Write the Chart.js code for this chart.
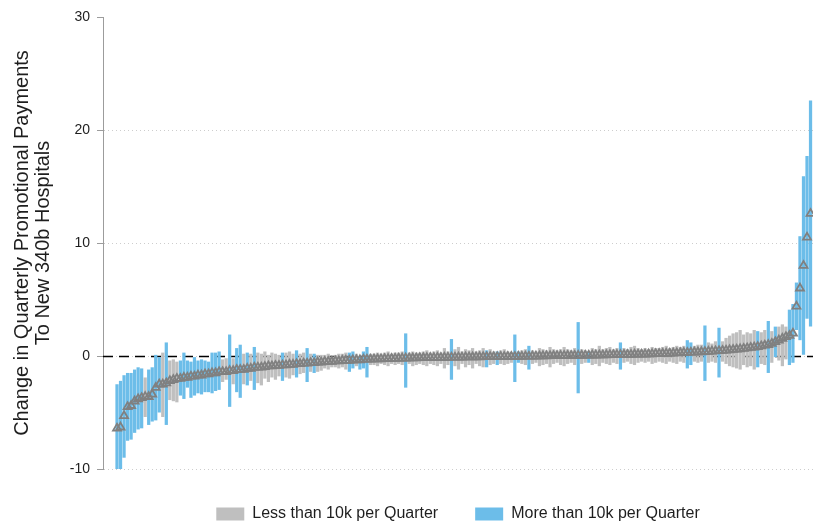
<!DOCTYPE html>
<html>
<head>
<meta charset="utf-8">
<script src="https://cdn.jsdelivr.net/npm/chart.js@4.4.1/dist/chart.umd.min.js"></script>
<style>
  html, body { margin: 0; padding: 0; background: #ffffff; }
  canvas { display: block; }
</style>
</head>
<body>
<canvas id="chart" width="813" height="527"></canvas>
<script>
// Ranked hospital-level estimates (point estimate and 95% CI bounds)
const estimate = [
  -6.4, -6.3, -5.3, -4.5, -4.4, -4.0, -3.8, -3.7, -3.6, -3.6,
  -3.4, -2.8, -2.5, -2.5, -2.4, -2.2, -2.1, -2.0, -2.0, -1.9,
  -1.9, -1.8, -1.8, -1.7, -1.7, -1.6, -1.6, -1.5, -1.5, -1.4,
  -1.4, -1.4, -1.3, -1.3, -1.2, -1.2, -1.2, -1.1, -1.1, -1.0,
  -1.0, -1.0, -0.95, -0.9, -0.9, -0.85, -0.85, -0.8, -0.8, -0.75,
  -0.75, -0.7, -0.7, -0.65, -0.65, -0.6, -0.6, -0.55, -0.55, -0.5,
  -0.5, -0.5, -0.45, -0.45, -0.4, -0.4, -0.4, -0.35, -0.35, -0.35,
  -0.3, -0.3, -0.3, -0.28, -0.27, -0.26, -0.25, -0.24, -0.23, -0.22,
  -0.21, -0.2, -0.2, -0.19, -0.19, -0.18, -0.17, -0.17, -0.16, -0.15,
  -0.15, -0.14, -0.14, -0.13, -0.13, -0.12, -0.12, -0.11, -0.11, -0.1,
  -0.1, -0.1, -0.09, -0.09, -0.08, -0.08, -0.07, -0.07, -0.07, -0.06,
  -0.06, -0.05, -0.05, -0.05, -0.04, -0.04, -0.03, -0.03, -0.02, -0.02,
  -0.01, 0, 0, 0.01, 0.01, 0.02, 0.02, 0.03, 0.03, 0.04,
  0.04, 0.05, 0.05, 0.06, 0.06, 0.07, 0.07, 0.08, 0.08, 0.09,
  0.1, 0.1, 0.11, 0.11, 0.12, 0.12, 0.13, 0.14, 0.14, 0.15,
  0.16, 0.17, 0.18, 0.19, 0.2, 0.21, 0.22, 0.23, 0.25, 0.26,
  0.28, 0.29, 0.3, 0.32, 0.33, 0.35, 0.36, 0.38, 0.4, 0.42,
  0.44, 0.46, 0.48, 0.5, 0.53, 0.56, 0.59, 0.62, 0.66, 0.7,
  0.74, 0.78, 0.82, 0.88, 0.94, 1.0, 1.1, 1.25, 1.4, 1.55,
  1.7, 1.8, 2.0, 4.4, 6.0, 8.0, 10.5, 12.6
];

const lowerCI = [
  -10.3, -10.4, -9.0, -7.5, -7.4, -6.8, -6.5, -6.4, -5.4, -6.1,
  -5.8, -5.7, -5.0, -5.4, -6.1, -3.9, -4.0, -4.1, -3.5, -3.8,
  -2.8, -3.7, -3.5, -3.3, -3.4, -3.2, -3.2, -3.3, -3.1, -3.0,
  -2.3, -2.1, -4.5, -2.5, -3.2, -3.7, -2.5, -2.6, -2.2, -3.0,
  -2.4, -2.6, -2.0, -2.3, -1.9, -2.1, -1.8, -2.2, -1.9, -2.0,
  -1.7, -1.9, -1.6, -1.5, -2.3, -1.4, -1.5, -1.4, -1.3, -1.1,
  -1.2, -1.0, -1.0, -1.1, -1.0, -1.2, -1.4, -1.1, -0.9, -1.2,
  -1.1, -1.9, -0.8, -0.8, -0.9, -0.7, -0.8, -0.9, -0.7, -0.8,
  -0.7, -0.8, -2.8, -0.7, -0.9, -0.8, -0.7, -0.8, -0.9, -0.7,
  -0.8, -0.9, -0.7, -1.1, -0.8, -2.1, -0.9, -1.2, -0.7, -1.0,
  -0.8, -1.1, -0.7, -0.9, -1.0, -1.0, -0.8, -0.7, -0.8, -0.7,
  -0.8, -0.7, -0.6, -2.3, -0.6, -0.7, -0.8, -1.2, -0.7, -0.6,
  -0.9, -0.8, -0.7, -1.0, -0.7, -0.6, -0.8, -0.9, -0.7, -0.6,
  -0.8, -3.3, -0.7, -0.6, -0.6, -0.8, -0.7, -0.9, -0.6, -0.7,
  -0.8, -0.6, -0.7, -1.2, -0.6, -0.5, -0.7, -0.8, -0.6, -0.5,
  -0.6, -0.5, -0.7, -0.6, -0.5, -0.6, -0.7, -0.5, -0.6, -0.7,
  -0.5, -0.6, -1.1, -0.8, -0.5, -0.6, -0.5, -2.2, -0.6, -0.5,
  -0.6, -1.9, -0.5, -0.7, -0.9, -1.0, -1.1, -1.2, -0.8, -1.0,
  -0.9, -1.2, -1.0, -0.7, -0.8, -1.5, -0.6, -0.1, -0.4, -0.9,
  -0.3, -0.8, -0.6, 2.3, 1.4, 0.1, 3.3, 2.6
];

const upperCI = [
  -2.5, -2.2, -1.7, -1.5, -1.5, -1.2, -1.0, -1.1, -1.9, -1.2,
  -1.0, 0.1, -0.1, 0.3, 1.2, -0.4, -0.3, -0.5, -0.4, 0.3,
  -0.4, -0.5, -0.1, -0.4, -0.3, -0.4, -0.5, 0.3, 0.3, 0.4,
  -0.3, -0.2, 1.9, -0.2, 0.7, 1.0, 0.2, 0.3, 0.2, 0.8,
  0.3, 0.2, 0.4, 0.1, 0.3, 0.2, 0.1, 0.3, 0.3, 0.4,
  0.2, 0.5, 0.2, 0.3, 0.7, 0.2, 0.2, 0.1, 0.1, 0.1,
  0.2, 0.0, 0.1, 0.2, 0.2, 0.3, 0.3, 0.4, 0.2, 0.0,
  0.4, 0.8, 0.2, 0.2, 0.3, 0.2, 0.3, 0.4, 0.2, 0.3,
  0.3, 0.4, 2.0, 0.3, 0.4, 0.3, 0.3, 0.4, 0.5, 0.3,
  0.4, 0.5, 0.3, 0.7, 0.4, 1.5, 0.6, 0.8, 0.4, 0.6,
  0.5, 0.7, 0.4, 0.5, 0.7, 0.5, 0.6, 0.4, 0.4, 0.5,
  0.6, 0.4, 0.3, 1.9, 0.4, 0.5, 0.6, 0.9, 0.5, 0.4,
  0.7, 0.6, 0.5, 0.8, 0.6, 0.5, 0.6, 0.8, 0.6, 0.5,
  0.7, 3.0, 0.6, 0.5, 0.4, 0.7, 0.6, 0.9, 0.6, 0.7,
  0.8, 0.6, 0.7, 1.2, 0.7, 0.6, 0.8, 0.9, 0.7, 0.6,
  0.7, 0.6, 0.8, 0.7, 0.7, 0.8, 0.9, 0.7, 0.8, 0.9,
  0.8, 0.9, 1.4, 1.2, 0.9, 1.0, 1.0, 2.7, 1.2, 1.1,
  1.3, 2.5, 1.3, 1.6, 1.8, 2.0, 2.1, 2.3, 1.9, 2.1,
  2.0, 2.3, 2.2, 2.1, 2.3, 3.1, 2.2, 2.6, 2.6, 2.8,
  2.6, 4.1, 4.6, 6.5, 10.6, 15.9, 17.7, 22.6
];

// 1 = more than 10k per quarter, 0 = less than 10k per quarter
const overTenK = [
  1, 1, 1, 1, 1, 1, 1, 1, 0, 1,
  1, 1, 1, 0, 1, 0, 0, 0, 1, 1,
  1, 1, 1, 1, 1, 1, 1, 1, 1, 1,
  0, 0, 1, 0, 1, 1, 0, 1, 0, 1,
  0, 0, 0, 0, 0, 0, 0, 1, 0, 0,
  0, 1, 0, 0, 1, 0, 1, 0, 0, 0,
  0, 0, 0, 0, 0, 0, 1, 1, 0, 1,
  1, 1, 0, 0, 0, 0, 0, 0, 0, 0,
  0, 0, 1, 0, 0, 0, 0, 0, 0, 0,
  0, 0, 0, 0, 0, 1, 0, 0, 0, 0,
  0, 0, 0, 0, 0, 1, 0, 0, 1, 0,
  0, 0, 0, 1, 1, 0, 0, 1, 0, 0,
  0, 0, 0, 0, 0, 0, 0, 0, 0, 0,
  0, 1, 0, 0, 1, 0, 0, 0, 0, 0,
  0, 0, 0, 1, 0, 0, 0, 0, 0, 0,
  0, 0, 0, 0, 0, 0, 0, 0, 0, 0,
  0, 0, 1, 1, 0, 0, 0, 1, 0, 0,
  0, 1, 0, 0, 0, 0, 0, 0, 0, 0,
  0, 0, 1, 0, 0, 1, 0, 1, 0, 0,
  0, 1, 1, 1, 1, 1, 1, 1
];

const yTicks = [-10, 0, 10, 20, 30];
const groupLabels = ['Less than 10k per Quarter', 'More than 10k per Quarter'];
const yTitle = ['Change in Quarterly Promotional Payments', 'To New 340b Hospitals'];

const GRAY = '#bfbfbf';
const BLUE = '#6cbde9';
const MARKER = '#808080';
const TEXT = '#1e1e1e';

// split the CI bars by payment group
const lowBars = [];
const highBars = [];
estimate.forEach((_, i) => {
  const bar = { x: i, y: [lowerCI[i], upperCI[i]] };
  (overTenK[i] ? highBars : lowBars).push(bar);
});
const points = estimate.map((v, i) => ({ x: i, y: v }));

// dashed reference line at zero, drawn beneath the bars
const zeroLine = {
  id: 'zeroLine',
  beforeDatasetsDraw(chart) {
    const { ctx, chartArea: a, scales: { y } } = chart;
    const py = Math.round(y.getPixelForValue(0)) + 0.5;
    ctx.save();
    ctx.strokeStyle = '#000';
    ctx.lineWidth = 1.3;
    ctx.setLineDash([10, 6]);
    ctx.beginPath();
    ctx.moveTo(a.left, py);
    ctx.lineTo(a.right, py);
    ctx.stroke();
    ctx.restore();
  }
};

Chart.defaults.font.family = '"Liberation Sans", Arial, sans-serif';

new Chart(document.getElementById('chart'), {
  type: 'bar',
  data: {
    datasets: [
      {
        type: 'scatter',
        label: 'Estimate',
        data: points,
        pointStyle: 'triangle',
        pointRadius: 4.6,
        pointBorderWidth: 1.8,
        pointBorderColor: MARKER,
        pointBackgroundColor: 'rgba(0,0,0,0)',
        clip: false,
        order: 0
      },
      {
        label: groupLabels[0],
        data: lowBars,
        backgroundColor: GRAY,
        borderWidth: 0,
        grouped: false,
        barPercentage: 0.92,
        categoryPercentage: 1,
        order: 1
      },
      {
        label: groupLabels[1],
        data: highBars,
        backgroundColor: BLUE,
        borderWidth: 0,
        grouped: false,
        barPercentage: 0.92,
        categoryPercentage: 1,
        order: 1
      }
    ]
  },
  options: {
    responsive: false,
    devicePixelRatio: 1,
    animation: false,
    layout: { autoPadding: false, padding: { top: 17, right: 0, bottom: -5, left: 0 } },
    scales: {
      x: {
        type: 'linear',
        display: false,
        offset: false,
        min: -3.98,
        max: 197.7,
        grid: { display: false }
      },
      y: {
        min: -10,
        max: 30,
        afterBuildTicks: s => { s.ticks = yTicks.map(v => ({ value: v })); },
        afterFit: s => { s.width = 103; },
        ticks: { font: { size: 14 }, color: TEXT, padding: 7 },
        grid: {
          color: c => (c.tick && c.tick.value === 30) ? 'rgba(0,0,0,0)' : '#cdcdcd',
          lineWidth: 1,
          drawTicks: true,
          tickLength: 6,
          tickColor: '#9c9c9c'
        },
        border: { display: true, color: '#9c9c9c', width: 1, dash: [1, 3] },
        title: {
          display: true,
          text: yTitle,
          color: TEXT,
          font: { size: 20, lineHeight: 1.05 },
          padding: { top: 12, bottom: 0 }
        }
      }
    },
    plugins: {
      tooltip: { enabled: false },
      legend: {
        position: 'bottom',
        fullSize: false,
        labels: {
          boxWidth: 28,
          boxHeight: 13,
          padding: 37,
          color: TEXT,
          font: { size: 16 },
          filter: item => item.datasetIndex > 0,
          sort: (a, b) => a.datasetIndex - b.datasetIndex
        }
      }
    }
  },
  plugins: [zeroLine]
});
</script>
</body>
</html>
